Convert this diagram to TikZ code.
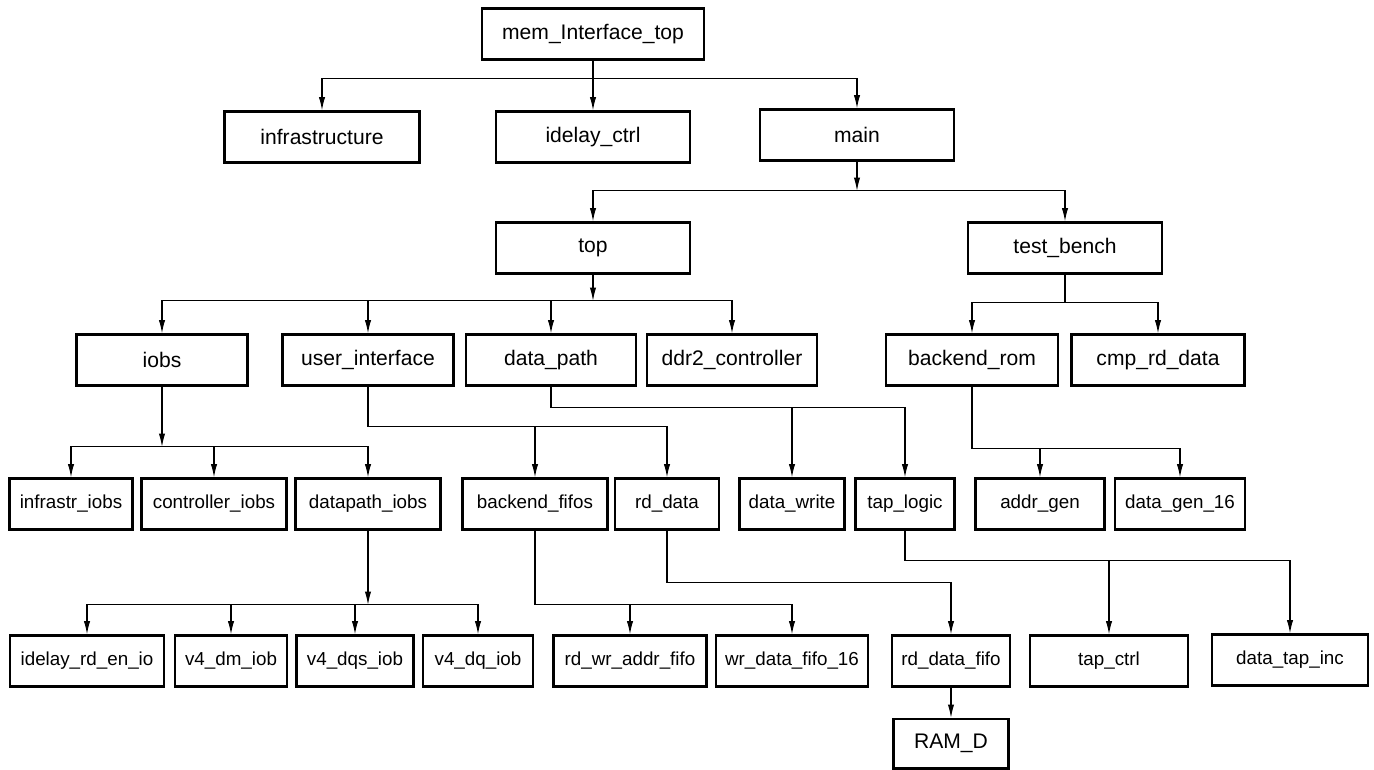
\documentclass[tikz,border=0pt]{standalone}
\usepackage{fontspec}
\setmainfont{Liberation Sans}
\usepackage{tikz}
\usetikzlibrary{arrows.meta,positioning}
\tikzset{
  modbox/.style={draw, line width=1.4pt, minimum height=1.02cm, inner sep=0pt,
                 font=\fontsize{12}{14}\selectfont},
  leafbox/.style={modbox, font=\fontsize{10.7}{13}\selectfont},
  wd/.style={minimum width=#1*0.02cm},
  conn/.style={line width=0.6pt},
  arr/.style={conn, -{Latex[length=7.5pt,width=3.6pt]}}
}

\begin{document}
\begin{tikzpicture}[x=0.02cm, y=-0.02cm]
    \useasboundingbox (0,0) rectangle (1374,769);

    % LEVEL 0/1: top module and its children
    \node[modbox, wd=222] (mem) at (593,34) {mem\_Interface\_top};
    \node[modbox, wd=195] (infra) at (322,137) {infrastructure};
    \node[modbox, wd=194] (idelay) at (593,137) {idelay\_ctrl};
    \node[modbox, wd=194] (main) at (857,135) {main};

    \draw[arr] (mem.south) -- (idelay.north);
    \draw[arr] (mem.south) ++(0,18) -| (infra.north);
    \draw[arr] (mem.south) ++(0,18) -| (main.north);

    % LEVEL 2: main
    \node[modbox, wd=194] (top) at (593,248) {top};
    \node[modbox, wd=194] (tbench) at (1065,248) {test\_bench};

    \draw[arr] (main.south) -- ++(0,29);
    \draw[arr] (main.south) ++(0,29) -| (top.north);
    \draw[arr] (main.south) ++(0,29) -| (tbench.north);

    % LEVEL 3: top and test_bench
    \node[modbox, wd=171] (iobs) at (162,360) {iobs};
    \node[modbox, wd=171] (uif) at (368,360) {user\_interface};
    \node[modbox, wd=170] (dpath) at (551,360) {data\_path};
    \node[modbox, wd=170] (ddr) at (732,360) {ddr2\_controller};
    \node[modbox, wd=172] (brom) at (972,360) {backend\_rom};
    \node[modbox, wd=173] (cmprd) at (1158,360) {cmp\_rd\_data};

    \draw[arr] (top.south) -- ++(0,26);
    \draw[arr] (top.south) ++(0,26) -| (iobs.north);
    \draw[arr] (top.south) ++(0,26) -| (uif.north);
    \draw[arr] (top.south) ++(0,26) -| (dpath.north);
    \draw[arr] (top.south) ++(0,26) -| (ddr.north);

    \draw[conn] (tbench.south) -- ++(0,28);
    \draw[arr] (tbench.south) ++(0,28) -| (brom.north);
    \draw[arr] (tbench.south) ++(0,28) -| (cmprd.north);

    % LEVEL 4
    \node[leafbox, wd=123] (infiobs) at (71,504) {infrastr\_iobs};
    \node[leafbox, wd=145] (ctrliobs) at (214,504) {controller\_iobs};
    \node[leafbox, wd=145] (dpiobs) at (368,504) {datapath\_iobs};
    \node[leafbox, wd=145] (bfifos) at (535,504) {backend\_fifos};
    \node[leafbox, wd=104] (rddata) at (667,504) {rd\_data};
    \node[leafbox, wd=105] (dwrite) at (792,504) {data\_write};
    \node[leafbox, wd=99] (taplogic) at (905,504) {tap\_logic};
    \node[leafbox, wd=129] (agen) at (1040,504) {addr\_gen};
    \node[leafbox, wd=130] (dgen) at (1180,504) {data\_gen\_16};

    \draw[arr] (iobs.south) -- ++(0,60);
    \draw[arr] (iobs.south) ++(0,60) -| (infiobs.north);
    \draw[arr] (iobs.south) ++(0,60) -| (ctrliobs.north);
    \draw[arr] (iobs.south) ++(0,60) -| (dpiobs.north);

    \draw[arr] (uif.south) -- ++(0,40) -| (rddata.north);
    \draw[arr] (uif.south) ++(0,40) -| (bfifos.north);

    \draw[arr] (dpath.south) -- ++(0,21) -| (taplogic.north);
    \draw[arr] (dpath.south) ++(0,21) -| (dwrite.north);

    \draw[arr] (brom.south) -- ++(0,62) -| (dgen.north);
    \draw[arr] (brom.south) ++(0,62) -| (agen.north);

    % LEVEL 5
    \node[leafbox, wd=154] (idrd) at (87,661) {idelay\_rd\_en\_io};
    \node[leafbox, wd=112] (dmiob) at (231,661) {v4\_dm\_iob};
    \node[leafbox, wd=117] (dqsiob) at (355,661) {v4\_dqs\_iob};
    \node[leafbox, wd=110] (dqiob) at (478,661) {v4\_dq\_iob};
    \node[leafbox, wd=153] (rwfifo) at (630,661) {rd\_wr\_addr\_fifo};
    \node[leafbox, wd=152] (wdfifo) at (792,661) {wr\_data\_fifo\_16};
    \node[leafbox, wd=118] (rdfifo) at (951,661) {rd\_data\_fifo};
    \node[leafbox, wd=158] (tapctrl) at (1109,661) {tap\_ctrl};
    \node[leafbox, wd=156] (tapinc) at (1290,660) {data\_tap\_inc};
    \node[modbox, wd=115, minimum height=0.99cm, below=0.6cm of rdfifo] (ramd) {RAM\_D};

    \draw[arr] (dpiobs.south) -- ++(0,74);
    \draw[arr] (dpiobs.south) ++(0,74) -| (idrd.north);
    \draw[arr] (dpiobs.south) ++(0,74) -| (dmiob.north);
    \draw[arr] (dpiobs.south) ++(0,74) -| (dqsiob.north);
    \draw[arr] (dpiobs.south) ++(0,74) -| (dqiob.north);

    \draw[arr] (bfifos.south) -- ++(0,74) -| (wdfifo.north);
    \draw[arr] (bfifos.south) ++(0,74) -| (rwfifo.north);

    \draw[arr] (rddata.south) -- ++(0,52) -| (rdfifo.north);

    \draw[arr] (taplogic.south) -- ++(0,30) -| (tapinc.north);
    \draw[arr] (taplogic.south) ++(0,30) -| (tapctrl.north);

    \draw[arr] (rdfifo.south) -- (ramd.north);
\end{tikzpicture}
\end{document}
